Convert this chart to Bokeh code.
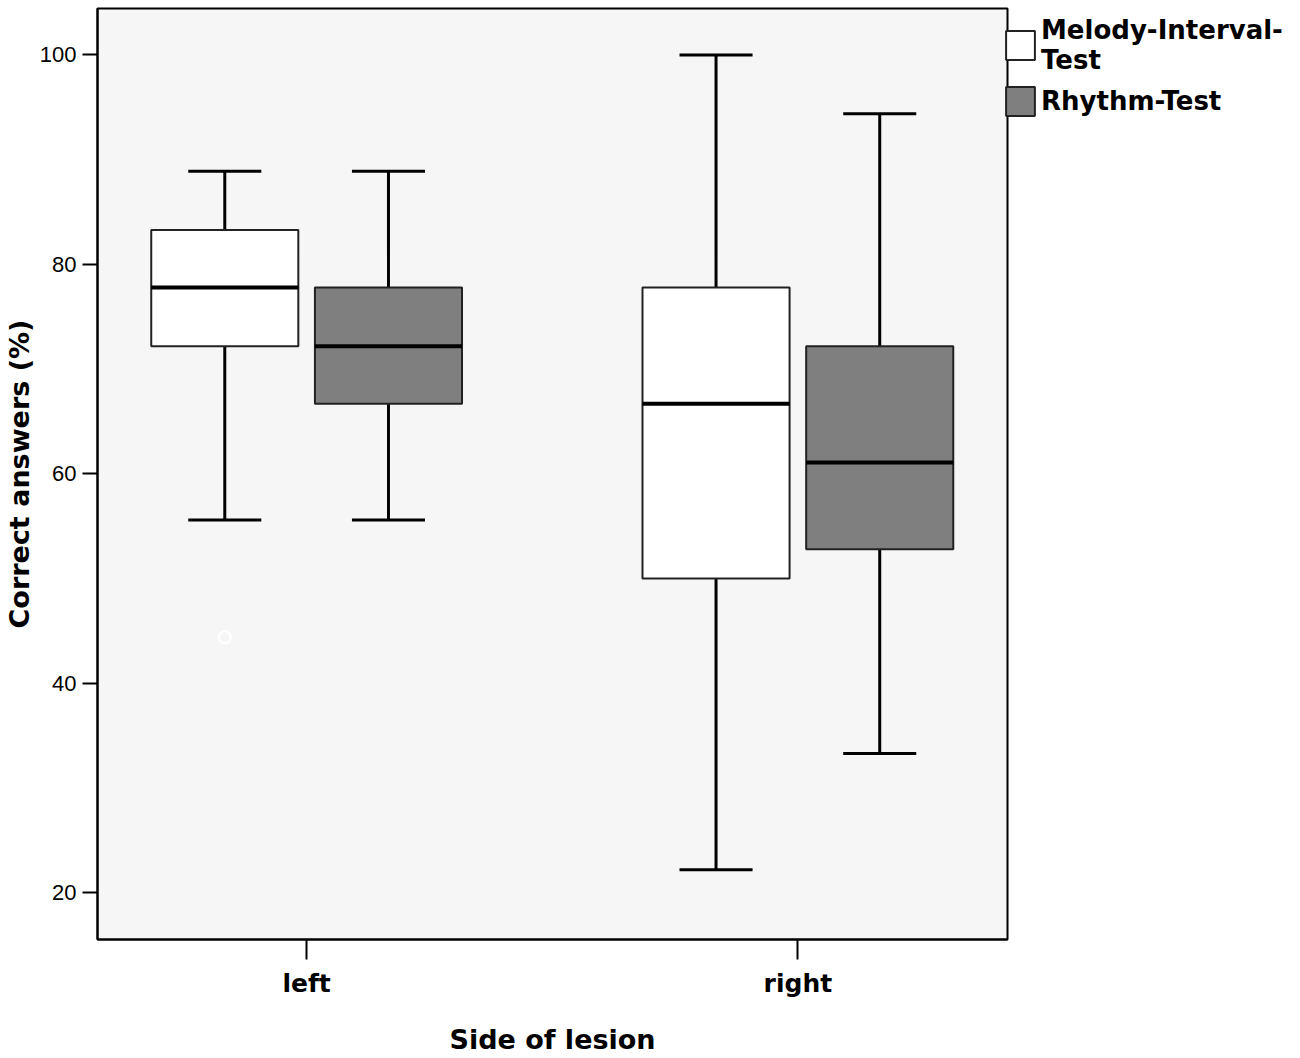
import numpy as np
from bokeh.plotting import figure
from bokeh.models import Legend, LegendItem, FixedTicker, Range1d
from bokeh.embed import file_html
from bokeh.resources import INLINE

# ---------------- data ----------------
categories = ["left", "right"]
series = ["Melody-Interval-\nTest", "Rhythm-Test"]

mit_low = [55.6, 22.2]
mit_q1 = [72.2, 50.0]
mit_med = [77.8, 66.7]
mit_q3 = [83.3, 77.8]
mit_high = [88.9, 100.0]

rhy_low = [55.6, 33.3]
rhy_q1 = [66.7, 52.8]
rhy_med = [72.2, 61.1]
rhy_q3 = [77.8, 72.2]
rhy_high = [88.9, 94.4]

mit_out_cat = ["left"]
mit_out_val = [44.4]

y_ticks = [20, 40, 60, 80, 100]

# ---------------- layout constants ----------------
OFFSET = 0.1666
BOX_W = 0.2994
CAP_W = 0.1487
FONT_BOLD = "DejaVu Sans"
FRAME_H = 931

base = np.arange(len(categories)) + 1.0

p = figure(frame_width=910, frame_height=FRAME_H,
           x_range=Range1d(0.5743, 2.4267), y_range=Range1d(15.54, 104.44),
           output_backend="svg", toolbar_location=None,
           min_border_left=97, min_border_top=8, min_border_right=0, min_border_bottom=0,
           background_fill_color="#f6f6f6", border_fill_color="white")

def draw_group(xc, low, q1, med, q3, high, fill):
    cap_l = xc - CAP_W / 2
    cap_r = xc + CAP_W / 2
    p.segment(x0=xc, y0=low, x1=xc, y1=q1, line_color="black", line_width=3)
    p.segment(x0=xc, y0=q3, x1=xc, y1=high, line_color="black", line_width=3)
    p.segment(x0=cap_l, y0=low, x1=cap_r, y1=low, line_color="black", line_width=3)
    p.segment(x0=cap_l, y0=high, x1=cap_r, y1=high, line_color="black", line_width=3)
    r = p.vbar(x=xc, width=BOX_W, bottom=q1, top=q3, fill_color=fill,
               line_color="#222222", line_width=2)
    p.segment(x0=xc - BOX_W / 2, y0=med, x1=xc + BOX_W / 2, y1=med,
              line_color="black", line_width=4)
    return r

r_mit = draw_group(base - OFFSET, mit_low, mit_q1, mit_med, mit_q3, mit_high, "white")
r_rhy = draw_group(base + OFFSET, rhy_low, rhy_q1, rhy_med, rhy_q3, rhy_high, "#7f7f7f")

out_x = [categories.index(c) + 1.0 - OFFSET for c in mit_out_cat]
p.scatter(x=out_x, y=mit_out_val, size=12, marker="circle",
          fill_color=None, line_color="white", line_width=2)

# ---------------- axes ----------------
p.xgrid.visible = False
p.ygrid.visible = False
p.outline_line_color = "black"
p.outline_line_width = 2

xa = p.xaxis[0]
xa.ticker = FixedTicker(ticks=list(base))
xa.major_label_overrides = {float(b): c for b, c in zip(base, categories)}
xa.major_label_overrides.update({int(b): c for b, c in zip(base, categories)})
xa.axis_label = "Side of lesion"
xa.axis_label_text_font = FONT_BOLD
xa.axis_label_text_font_style = "bold"
xa.axis_label_text_font_size = "27px"
xa.axis_label_text_color = "black"
xa.axis_label_standoff = 23
xa.major_label_text_font = FONT_BOLD
xa.major_label_text_font_style = "bold"
xa.major_label_text_font_size = "25px"
xa.major_label_text_color = "black"
xa.major_label_standoff = 9
xa.major_tick_out = 20
xa.major_tick_in = 0
xa.minor_tick_out = 0
xa.minor_tick_in = 0
xa.axis_line_width = 2
xa.major_tick_line_width = 2

ya = p.yaxis[0]
ya.ticker = FixedTicker(ticks=y_ticks)
ya.axis_label = "Correct answers (%)"
ya.axis_label_text_font = FONT_BOLD
ya.axis_label_text_font_style = "bold"
ya.axis_label_text_font_size = "27px"
ya.axis_label_text_color = "black"
ya.axis_label_standoff = 2
ya.major_label_text_font = "Liberation Sans"
ya.major_label_text_font_size = "22px"
ya.major_label_text_color = "black"
ya.major_label_standoff = 6
ya.major_tick_out = 15
ya.major_tick_in = 0
ya.minor_tick_out = 0
ya.minor_tick_in = 0
ya.axis_line_width = 2
ya.major_tick_line_width = 2

# ---------------- legend ----------------
legend = Legend(items=[LegendItem(label=series[0], renderers=[r_mit]),
                       LegendItem(label=series[1], renderers=[r_rhy])],
                location=(-5, FRAME_H - 111),
                orientation="vertical",
                label_text_font=FONT_BOLD, label_text_font_style="bold",
                label_text_font_size="26px", label_text_color="black",
                label_text_line_height=1.38,
                glyph_width=36, glyph_height=36, label_standoff=3,
                spacing=8, padding=0, margin=0,
                border_line_color=None, background_fill_alpha=0)
p.add_layout(legend, "right")

open("out.html", "w").write(file_html(p, INLINE))
